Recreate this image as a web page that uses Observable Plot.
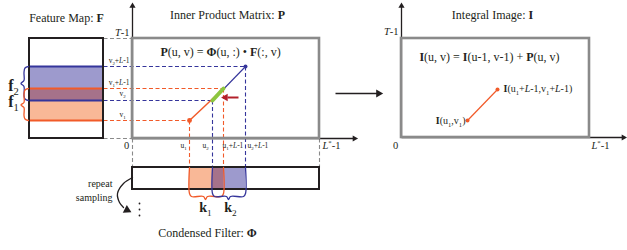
<!DOCTYPE html>
<html><head><meta charset="utf-8">
<script src="https://cdn.jsdelivr.net/npm/d3@7"></script>
<script src="https://cdn.jsdelivr.net/npm/@observablehq/plot@0.6"></script>
<style>
html,body{margin:0;padding:0;background:#fff;}
svg{display:block}
#chart svg text, #chart svg tspan{font-family:"Liberation Serif","Times New Roman",serif !important;}
</style>
</head><body><div id="chart"></div>
<script>
// ---- diagram data (diagram units = pixels of the 627x250 canvas) ----
const BLUE = "#35359b", RED = "#f15a29", GREY = "#8a8a8a", INK = "#231f20";
const FILL_BLUE = "#9d9acd", FILL_ORANGE = "#f9b897", FILL_OVER = "#a6728a";

// key column positions (u) and row positions (v) of the inner product matrix
const uZero = 132, uStar = 319, u1 = 189, u2 = 212, u1L = 223, u2L = 245;
const vTop = 38, vZero = 138, v2L = 66, v1L = 88, v2 = 100, v1 = 120;

// filled rectangles
const fillRects = [
  {x1: 29, x2: 103, y1: vTop, y2: vZero, fill: "#ffffff"},
  {x1: 29, x2: 103, y1: v2L, y2: v1L, fill: FILL_BLUE},
  {x1: 29, x2: 103, y1: v1L, y2: v2, fill: FILL_OVER},
  {x1: 29, x2: 103, y1: v2, y2: v1, fill: FILL_ORANGE},
  {x1: u1, x2: u2, y1: 167, y2: 189, fill: FILL_ORANGE},
  {x1: u2, x2: u1L, y1: 167, y2: 189, fill: FILL_OVER},
  {x1: u1L, x2: u2L, y1: 167, y2: 189, fill: FILL_BLUE}
];
// framed boxes
const frames = [
  {x1: 29, x2: 103, y1: vTop, y2: vZero, stroke: INK, w: 2},
  {x1: uZero, x2: uStar, y1: 167, y2: 189, stroke: INK, w: 2},
  {x1: uZero, x2: uStar, y1: vTop, y2: vZero, stroke: GREY, w: 2.6},
  {x1: 401, x2: 589, y1: vTop, y2: 137, stroke: GREY, w: 2.6}
];
// dashed guide lines
const dashes = [
  {x1: 103, y1: v2L, x2: u2L, y2: v2L, c: BLUE},
  {x1: 103, y1: v1L, x2: u1L, y2: v1L, c: RED},
  {x1: 103, y1: v2, x2: u2, y2: v2, c: BLUE},
  {x1: 103, y1: v1, x2: u1, y2: v1, c: RED},
  {x1: 103, y1: vTop, x2: uZero, y2: vTop, c: GREY},
  {x1: 103, y1: vZero, x2: uZero, y2: vZero, c: GREY},
  {x1: u1, y1: v1, x2: u1, y2: 167, c: RED},
  {x1: u2, y1: v2, x2: u2, y2: 167, c: BLUE},
  {x1: u1L, y1: v1L, x2: u1L, y2: 167, c: RED},
  {x1: u2L, y1: v2L, x2: u2L, y2: 167, c: BLUE},
  {x1: uZero, y1: vZero, x2: uZero, y2: 167, c: GREY},
  {x1: uStar, y1: vZero, x2: uStar, y2: 167, c: GREY}
];
// solid lines
const solids = [
  {x1: 29, y1: v2L, x2: 103, y2: v2L, c: BLUE, w: 2},
  {x1: 29, y1: v2, x2: 103, y2: v2, c: BLUE, w: 2},
  {x1: 29, y1: v1L, x2: 103, y2: v1L, c: RED, w: 2},
  {x1: 29, y1: v1, x2: 103, y2: v1, c: RED, w: 2},
  {x1: uZero, y1: vZero, x2: uZero, y2: 6, c: INK, w: 1.3},
  {x1: uZero, y1: vZero, x2: 353, y2: vZero, c: INK, w: 1.3},
  {x1: 401, y1: 137, x2: 401, y2: 6, c: INK, w: 1.3},
  {x1: 401, y1: 137, x2: 622, y2: 137, c: INK, w: 1.3},
  {x1: 335, y1: 93, x2: 377, y2: 93, c: INK, w: 1.6},
  {x1: u1, y1: v1, x2: u1L, y2: v1L, c: RED, w: 1.5},
  {x1: u2, y1: v2, x2: u2L, y2: v2L, c: BLUE, w: 1.1},
  {x1: 238, y1: 97, x2: 227, y2: 97, c: "#b3202a", w: 2},
  {x1: 467, y1: 120, x2: 497, y2: 89, c: RED, w: 1.2}
];
const greenSeg = [{x1: u2, y1: v2, x2: u1L, y2: v1L}];
// end points
const points = [
  {x: u1, y: v1, c: RED, r: 2.4},
  {x: u2L, y: v2L, c: BLUE, r: 2},
  {x: 467, y: 120, c: RED, r: 2},
  {x: 497, y: 89, c: RED, r: 2},
  {x: 139, y: 203, c: INK, r: 0.9},
  {x: 139, y: 209, c: INK, r: 0.9},
  {x: 139, y: 215, c: INK, r: 0.9}
];
// arrow heads (centre, direction in degrees clockwise from up)
const heads = [
  {x: uZero, y: 5.5, rot: 0, r: 2.3, c: INK},
  {x: 354, y: vZero, rot: 90, r: 2.3, c: INK},
  {x: 401, y: 5.5, rot: 0, r: 2.3, c: INK},
  {x: 623, y: 137, rot: 90, r: 2.3, c: INK},
  {x: 378, y: 93, rot: 90, r: 3, c: INK},
  {x: 225, y: 97, rot: -90, r: 2.8, c: "#b3202a"},
  {x: 126.5, y: 209.5, rot: 118, r: 3.2, c: INK}
];
// braces and curved arrow (polylines)
const curves = [
  {id: "f2", c: BLUE, pts: [[28,66],[24.5,67.5],[23.5,72],[23.5,80],[20.5,83],[23.5,86],[23.5,95],[24.5,98.5],[28,100]]},
  {id: "f1", c: RED, pts: [[28,88],[24.5,89.5],[23.5,94],[23.5,102],[20.5,104.5],[23.5,107],[23.5,115],[24.5,118.5],[28,120]]},
  {id: "k1", c: RED, pts: [[189,167],[189,193],[191,196],[203,196],[205,199],[207,196],[221,196],[223,193],[223,167]]},
  {id: "k2", c: BLUE, pts: [[212,167],[212,193],[214,196],[226,196],[228,199],[230,196],[243,196],[245,193],[245,167]]},
  {id: "rs", c: INK, pts: [[132,177],[123,183],[117,193],[119,202],[123,207]]}
];
// text labels: § bold, ~ italic, _x subscript, ^x superscript
const textsMiddle = [
  {x: 66, y: 18, s: "Feature Map: §F§", fs: 12},
  {x: 227, y: 15, s: "Inner Product Matrix: §P§", fs: 12},
  {x: 492, y: 15, s: "Integral Image: §I§", fs: 12},
  {x: 220, y: 52, s: "§P§(u, v) = §Φ§(u, :) • §F§(:, v)", fs: 12},
  {x: 489, y: 57, s: "§I§(u, v) = §I§(u-1, v-1) + §P§(u, v)", fs: 12},
  {x: 207, y: 233, s: "Condensed Filter: §Φ§", fs: 12},
  {x: 13, y: 85, s: "§f§_2", fs: 16},
  {x: 13, y: 101, s: "§f§_1", fs: 16},
  {x: 205, y: 207, s: "§k§_1", fs: 14},
  {x: 230, y: 207, s: "§k§_2", fs: 14},
  {x: 183, y: 145, s: "u_1", fs: 7.5},
  {x: 205, y: 145, s: "u_2", fs: 7.5},
  {x: 122, y: 93, s: "v_2", fs: 7.5},
  {x: 122, y: 114, s: "v_1", fs: 7.5},
  {x: 126, y: 145, s: "0", fs: 10.5},
  {x: 395, y: 145, s: "0", fs: 10.5}
];
const textsStart = [
  {x: 222, y: 145, s: "u_1+~L~-1", fs: 7.5},
  {x: 247, y: 145, s: "u_2+~L~-1", fs: 7.5},
  {x: 322, y: 145, s: "~L~^*-1", fs: 10.5},
  {x: 591, y: 145, s: "~L~^*-1", fs: 10.5},
  {x: 503, y: 88, s: "§I§(u_1+~L~-1,v_1+~L~-1)", fs: 10}
];
const textsEnd = [
  {x: 129, y: 32, s: "~T~-1", fs: 10.5},
  {x: 398, y: 31, s: "~T~-1", fs: 10.5},
  {x: 129, y: 60, s: "v_2+~L~-1", fs: 7.5},
  {x: 129, y: 82, s: "v_1+~L~-1", fs: 7.5},
  {x: 112, y: 183, s: "repeat", fs: 10},
  {x: 112, y: 197, s: "sampling", fs: 10},
  {x: 465, y: 120, s: "§I§(u_1,v_1)", fs: 10}
];

// ---- build ----
const SERIF = "Liberation Serif";
const curvePts = curves.flatMap(c => c.pts.map(([x, y]) => ({x, y, id: c.id, c: c.c})));
const textOpts = (anchor) => ({x: "x", y: "y", text: "s", fontSize: "fs", textAnchor: anchor, fill: "#231f20", fontFamily: SERIF});

const chart = Plot.plot({
  width: 627, height: 250, margin: 0,
  x: {domain: [0, 627], axis: null},
  y: {domain: [250, 0], axis: null},
  r: {type: "identity"},
  color: {type: "identity"},
  style: {background: "#fff"},
  marks: [
    Plot.rect(fillRects, {x1: "x1", x2: "x2", y1: "y1", y2: "y2", fill: "fill"}),
    Plot.link(dashes, {x1: "x1", y1: "y1", x2: "x2", y2: "y2", stroke: "c", strokeWidth: 1.1, strokeDasharray: "4,2.5"}),
    Plot.link(solids, {x1: "x1", y1: "y1", x2: "x2", y2: "y2", stroke: "c", strokeWidth: "w"}),
    Plot.rect(frames, {x1: "x1", x2: "x2", y1: "y1", y2: "y2", fill: "none", stroke: "stroke", strokeWidth: "w"}),
    Plot.link(greenSeg, {x1: "x1", y1: "y1", x2: "x2", y2: "y2", stroke: "#8dc63f", strokeWidth: 4, strokeLinecap: "round"}),
    Plot.line(curvePts, {x: "x", y: "y", z: "id", stroke: "c", strokeWidth: 1.3, curve: "catmull-rom"}),
    Plot.dot(points, {x: "x", y: "y", r: "r", fill: "c", stroke: null}),
    Plot.dot(heads, {x: "x", y: "y", r: "r", rotate: "rot", symbol: "triangle", fill: "c", stroke: null}),
    Plot.text(textsMiddle, textOpts("middle")),
    Plot.text(textsStart, textOpts("start")),
    Plot.text(textsEnd, textOpts("end"))
  ]
});
document.getElementById("chart").appendChild(chart);

// rich text: bold, italic, sub/superscripts as tspans
(function richify(svg) {
  const NS = "http://www.w3.org/2000/svg";
  svg.querySelectorAll("text").forEach(t => {
    const s = t.textContent;
    if (!/[§~_^]/.test(s)) return;
    const fs = parseFloat(getComputedStyle(t).fontSize) || 10;
    const segs = [];
    let bold = false, ital = false;
    for (let i = 0; i < s.length; i++) {
      const ch = s[i];
      if (ch === "§") { bold = !bold; continue; }
      if (ch === "~") { ital = !ital; continue; }
      if ((ch === "_" || ch === "^") && i + 1 < s.length) {
        segs.push({t: s[i + 1], bold: false, ital: false, pos: ch === "_" ? 1 : -1}); i++; continue;
      }
      const last = segs[segs.length - 1];
      if (last && last.pos === 0 && last.bold === bold && last.ital === ital) last.t += ch;
      else segs.push({t: ch, bold, ital, pos: 0});
    }
    t.textContent = "";
    let cur = 0;
    for (const g of segs) {
      const ts = document.createElementNS(NS, "tspan");
      const target = g.pos === 1 ? fs * 0.28 : g.pos === -1 ? -fs * 0.38 : 0;
      if (target !== cur) ts.setAttribute("dy", (target - cur).toFixed(2));
      cur = target;
      if (g.pos) ts.setAttribute("font-size", (fs * 0.66).toFixed(2));
      if (g.bold) ts.setAttribute("font-weight", "bold");
      if (g.ital) ts.setAttribute("font-style", "italic");
      ts.textContent = g.t;
      t.appendChild(ts);
    }
  });
})(chart);
</script>
</body></html>
